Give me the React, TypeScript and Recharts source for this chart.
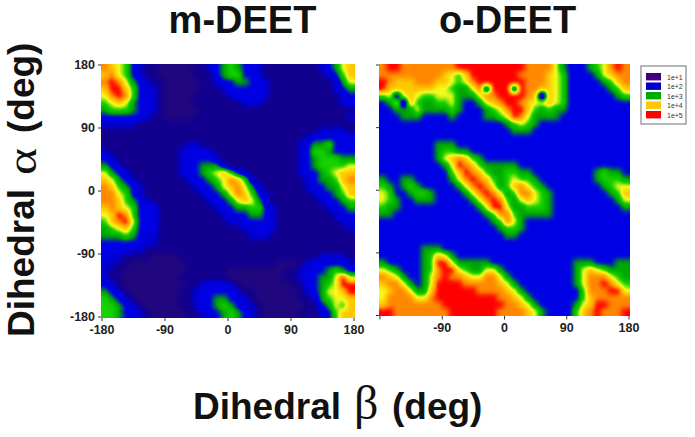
import React from "react";
import { ScatterChart, Scatter, XAxis, YAxis } from "recharts";

// log10 population band per 10 degree bin, rows run from alpha 175 down to -175, columns from beta -175 to 175
const mDeetRows = [
  "876532 110000011 23 454 33 2 11111111 2 3 4 6 7",
  "786532 110000011 13455332 111111111 2357",
  "89864321 10000011 23344332 111111111 246",
  "79975322 100000111 2333332 111111111 234",
  "68985322 1000011111 233332 1111111111 23",
  "56764332 10000111111 12221 1111111111 23",
  "45554332 10000011111111111111111111 111111 23",
  "33333321 100001111 111111111 111111111 2",
  "22222111 1111111111 1111111111 11111111",
  "1111111111 1111111111 11111111111 22221",
  "1111111111 1111111111 111111111 2333333",
  "111111111111 22 11111111111111 23445333",
  "2 1111111111 23332 111111111111 23554333",
  "32 111111111 233332 11111111111 23455544",
  "432 11111111 2334442 1111111111 23455556",
  "6432 1111111 2334567532 1111111 23345677",
  "76432 1111111 2334568752 1111111 2344578",
  "875432 1111111 2334678642 111111 2334467",
  "886532 11111111 2334687532 111111 233457",
  "8875432 11111111 233467642 1111111 23345",
  "78765333 11111111 233445532 1111111 2334",
  "67985333 111111111 23334432 11111111 233",
  "57896333 1111111111 2233332 111111111 22",
  "45675333 111111111111 22332 1111111111 2",
  "44454322 1111111111111 222 111111111111",
  "33333322 1111111111111111111111111111",
  "333322 111111111111111111111111111111",
  "3221 111000011111111111111111111 22221",
  "221 10000000011111111111110001 2333332",
  "21 10000000001111110000000011 23334543",
  "21 10000000011111110000000011 23344696",
  "32 100000000011 23332 100000001 13345699",
  "432 1000000011 2333332 110000001 2346679",
  "5432 100000011 23344332 100000011 245667",
  "55432 10000011 233454322 100000011 34657",
  "554332 10000011 23345432 100000111 23577",
];

const oDeetRows = [
  "8998 888888 8 9 99999999 98888 6 4 333 456898",
  "88888888 8 7 6 5 7 9999999 8888 7 6 5 3 333 4 6 7 8 8",
  "98777888 77 65 68 99 9 99 9 9 888 7 6 5 3 3333 4578",
  "97777777 66 5 44 6 8 2 9 99 2 9 88 7 7 6 5 3 33333 457",
  "5626765566 6444688999 98707653 333333 45",
  "3461754455 6433467899 87667653 33333333",
  "3344464444 5433345689 97545443 33333333",
  "3334443333 4333344569 86444433 33333333",
  "333333333333333333 45654 3333333333333",
  "3333333333333333333 444 33333333333333",
  "333333333333333333333333333333333333",
  "33333333 4 4 4 33333 3333333333333333333",
  "33333333 45544 33333333333333333333333",
  "33333333 4678754 333333333333333333333",
  "333333333 469875444443 333333333333333",
  "3333333333 5798754455443 33333333 45443",
  "4334433333 46898754565543 3333333 45554",
  "54345433333 46898645786543 3333333 4566",
  "653345543333 46898645886543 3333333 457",
  "6543344433333 4689854676543 33333333 46",
  "54433333333333 469964455543 333333333 4",
  "443333333333333 45885444443 3333333333",
  "3333333333333333 45864 333333333333333",
  "33333333333333333 4554 333333333333333",
  "333333333333333333 44 3333333333333333",
  "333333333333333333333333333333333333",
  "333333 444 333333333333333333333333333",
  "33333 3 4576 4 3 33333333333333333333333",
  "433333 4599644444 333333333333 44433344",
  "654333 4589965446643 333333333 46765444",
  "876433 46898876688643 33333333 46888654",
  "78864346 9999888887643 3333333 46889865",
  "67886447 99999988887643 3333333 5888996",
  "68888668 999999999887643 333333 5788888",
  "788888888 999999999887643 3333 46799888",
  "9988888888 9999999888876433 33 57898889",
];

// colour ramp for bands 0..9, per channel in 0..1, applied after the bins are smoothed
const rampR = [0.13, 0.07, 0, 0, 0, 0.08, 0.96, 1, 1, 1];
const rampG = [0.03, 0, 0, 0, 0.66, 0.82, 0.98, 0.78, 0.54, 0];
const rampB = [0.5, 0.56, 0.84, 0.9, 0, 0, 0.12, 0, 0, 0];

const axisTicks = [-180, -90, 0, 90, 180];
const legendLabels = ["1e+1", "1e+2", "1e+3", "1e+4", "1e+5"];
const legendColors = ["#3f0080", "#0000c8", "#00ac00", "#ffc800", "#ff0000"];

const BINS = 36;
const FONT = "'Liberation Sans', Arial, sans-serif";
const tickStyle = { fontSize: 12.5, fontWeight: 700, fill: "#222", fontFamily: FONT };
const axisColor = "#333";

function toCells(rows: string[]) {
  const cells: { beta: number; alpha: number; band: number }[] = [];
  rows.forEach((row, r) => {
    const clean = row.replace(/ /g, "");
    for (let c = 0; c < BINS; c++) {
      const ch = clean[c] ?? clean[clean.length - 1];
      cells.push({ beta: -175 + c * 10, alpha: 175 - r * 10, band: Number(ch) });
    }
  });
  return cells;
}

function Panel(props: { rows: string[]; left: number; plotW: number; plotH: number; leftW: number; showY: boolean; hideFirstX: boolean }) {
  const { plotW, plotH, leftW } = props;
  const chartW = leftW + plotW + 22;
  const chartH = 10 + plotH + 32;
  const cellW = plotW / BINS + 1;
  const cellH = plotH / BINS + 1;

  // each bin is painted as a grey level; the filter smooths it and maps it onto the colour ramp
  const cell = (p: any) => {
    const g = Math.round((p.payload.band / 9) * 255);
    return <rect x={p.cx - cellW / 2} y={p.cy - cellH / 2} width={cellW} height={cellH} fill={`rgb(${g},${g},${g})`} />;
  };

  return (
    <div style={{ position: "absolute", left: props.left, top: 55 }}>
      <ScatterChart width={chartW} height={chartH} margin={{ top: 0, right: 0, bottom: 0, left: 0 }}>
        <Scatter data={toCells(props.rows)} dataKey="alpha" shape={cell} isAnimationActive={false} />
        <XAxis
          type="number"
          dataKey="beta"
          domain={[-180, 180]}
          ticks={axisTicks}
          interval={0}
          height={32}
          tick={tickStyle}
          tickSize={4}
          tickMargin={4}
          stroke={axisColor}
          tickFormatter={(v) => (props.hideFirstX && v === -180 ? "" : String(v))}
        />
        <XAxis
          xAxisId="top"
          orientation="top"
          type="number"
          domain={[-180, 180]}
          ticks={axisTicks}
          interval={0}
          height={10}
          tickSize={4}
          stroke={axisColor}
          tickFormatter={() => ""}
        />
        <YAxis
          type="number"
          dataKey="alpha"
          domain={[-180, 180]}
          ticks={axisTicks}
          interval={0}
          width={leftW}
          tick={tickStyle}
          tickSize={4}
          tickMargin={3}
          stroke={axisColor}
          tickFormatter={(v) => (props.showY ? String(v) : "")}
        />
        <YAxis
          yAxisId="right"
          orientation="right"
          type="number"
          domain={[-180, 180]}
          ticks={axisTicks}
          interval={0}
          width={22}
          tickSize={4}
          stroke={axisColor}
          tickFormatter={() => ""}
        />
      </ScatterChart>
    </div>
  );
}

export default function App() {
  return (
    <div style={{ position: "absolute", left: 0, top: 0, width: 695, height: 437, background: "#fff", overflow: "hidden" }}>
      <style>{`.recharts-scatter { filter: url(#soft); }`}</style>
      <svg width={0} height={0} style={{ position: "absolute" }}>
        <filter id="soft" x="0" y="0" width="1" height="1" colorInterpolationFilters="sRGB">
          <feGaussianBlur stdDeviation="2.7" />
          <feComponentTransfer>
            <feFuncR type="table" tableValues={rampR.join(" ")} />
            <feFuncG type="table" tableValues={rampG.join(" ")} />
            <feFuncB type="table" tableValues={rampB.join(" ")} />
            <feFuncA type="table" tableValues="1 1" />
          </feComponentTransfer>
        </filter>
      </svg>

      <Panel rows={mDeetRows} left={60} plotW={252} plotH={252} leftW={42} showY hideFirstX={false} />
      <Panel rows={oDeetRows} left={368} plotW={249} plotH={250.5} leftW={12} showY={false} hideFirstX />

      <svg width={695} height={437} style={{ position: "absolute", left: 0, top: 0, pointerEvents: "none" }}>
        <g fontFamily={FONT} fontWeight={700} fill="#111">
          <text x={242.5} y={33} fontSize={38} textAnchor="middle">m-DEET</text>
          <text x={507.5} y={33} fontSize={38} textAnchor="middle">o-DEET</text>
          <text x={193} y={419} fontSize={37}>Dihedral</text>
          <text x={354} y={419} fontSize={48} fontWeight={400} fontFamily="'Liberation Serif', serif">β</text>
          <text x={392} y={419} fontSize={37}>(deg)</text>
          <g transform="translate(34,337) rotate(-90)">
            <text x={0} y={0} fontSize={37}>Dihedral</text>
            <text x={204} y={0} fontSize={37}>(deg)</text>
          </g>
          <g transform="translate(36,337) rotate(-90)">
            <text x={162} y={0} fontSize={39} fontWeight={400} fontFamily="'Liberation Serif', serif" textLength={27} lengthAdjust="spacingAndGlyphs">α</text>
          </g>
        </g>

        <rect x={641} y={66} width={45} height={58} fill="#fff" stroke="#888" strokeWidth={1.2} />
        {legendLabels.map((label, i) => (
          <g key={label}>
            <rect x={646} y={73 + i * 9.5} width={15} height={7.4} fill={legendColors[i]} />
            <text x={667} y={79.5 + i * 9.5} fontSize={7} fontFamily={FONT} fill="#333">{label}</text>
          </g>
        ))}
      </svg>
    </div>
  );
}
